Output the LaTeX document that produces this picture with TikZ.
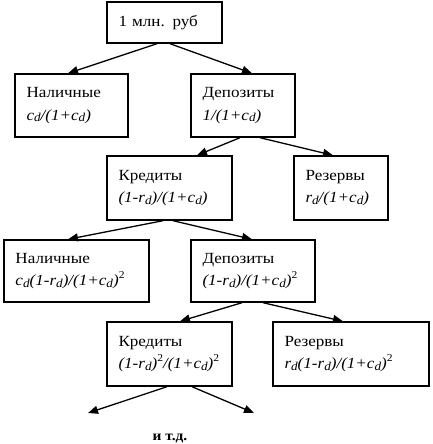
\documentclass[tikz,border=0pt]{standalone}
\usepackage{fontspec}
\setmainfont{Liberation Serif}[FakeStretch=1.1]
\usetikzlibrary{arrows.meta}
\newcommand{\sbd}{\raisebox{-1.8pt}{\fontsize{12}{12}\selectfont d}}
\newcommand{\spt}{\raisebox{7pt}{\fontsize{10.5}{10}\selectfont\upshape 2}}
\begin{document}
\begin{tikzpicture}[x=1pt,y=-1pt,
  box/.style={draw,line width=1.4pt,rectangle,inner xsep=11.5pt,inner ysep=0pt,
    align=left,font=\fontsize{15.5}{22.5}\selectfont,minimum height=#1},
  box/.default=63pt,
  arr/.style={line width=1.3pt,-{Triangle[length=10pt,width=8pt]}}]
\useasboundingbox (0,0) rectangle (432,444);
\node[box=41pt,text width=115pt-23pt] (top) at (164.5,22.5) {1 млн. руб};
\node[box,text width=113pt-23pt] (nal1) at (71.5,105.5) {Наличные\\\mbox{\itshape c\sbd/(1+c\sbd)}};
\node[box,text width=104pt-23pt] (dep1) at (243,105.5) {Депозиты\\\mbox{\itshape 1/(1+c\sbd)}};
\node[box=64pt,text width=125pt-23pt] (kr1) at (169.5,188) {Кредиты\\\mbox{\itshape (1-r\sbd)/(1+c\sbd)}};
\node[box=64pt,text width=94pt-23pt] (rez1) at (341,188) {Резервы\\\mbox{\itshape r\sbd/(1+c\sbd)}};
\node[box=62pt,text width=145pt-23pt] (nal2) at (76.5,271) {Наличные\\\mbox{\itshape c\sbd(1-r\sbd)/(1+c\sbd)\spt}};
\node[box=62pt,text width=124pt-23pt] (dep2) at (253,271) {Депозиты\\\mbox{\itshape (1-r\sbd)/(1+c\sbd)\spt}};
\node[box=64pt,text width=125pt-23pt] (kr2) at (169.5,354) {Кредиты\\\mbox{\itshape (1-r\sbd)\spt/(1+c\sbd)\spt}};
\node[box=64pt,text width=156pt-23pt] (rez2) at (351,354) {Резервы\\\mbox{\itshape r\sbd(1-r\sbd)/(1+c\sbd)\spt}};
\node[font=\bfseries\fontsize{14}{15}\selectfont,anchor=base] (etc) at (170,440) {и т.д.};
\coordinate (e1) at (88,413);
\coordinate (e2) at (254,413);
\draw[arr] ([xshift=-7.5pt]top.south) -- ([xshift=-3.5pt]nal1.north);
\draw[arr] ([xshift=5.5pt]top.south) -- ([xshift=9pt]dep1.north);
\draw[arr] ([xshift=-3pt]dep1.south) -- ([xshift=27.5pt]kr1.north);
\draw[arr] ([xshift=17pt]dep1.south) -- ([xshift=-8pt]rez1.north);
\draw[arr] ([xshift=-6.5pt]kr1.south) -- ([xshift=-8.5pt]nal2.north);
\draw[arr] ([xshift=3.5pt]kr1.south) -- ([xshift=-1pt]dep2.north);
\draw[arr] ([xshift=-11pt]dep2.south) -- ([xshift=10.5pt]kr2.north);
\draw[arr] ([xshift=10pt]dep2.south) -- ([xshift=-8pt]rez2.north);
\draw[arr] ([xshift=-2.5pt]kr2.south) -- (e1);
\draw[arr] ([xshift=22.5pt]kr2.south) -- (e2);
\end{tikzpicture}
\end{document}
